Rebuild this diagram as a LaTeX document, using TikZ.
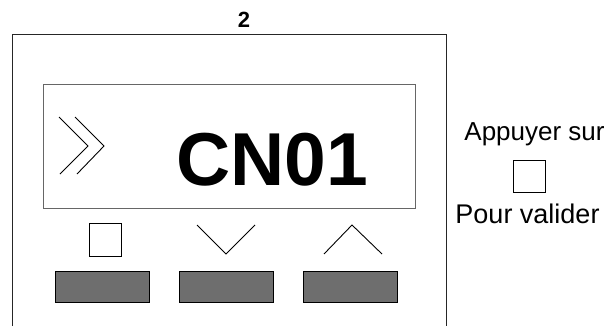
\documentclass[tikz,border=0pt]{standalone}
\usepackage{fontspec}
\setmainfont{Liberation Sans}
\usepackage{xcolor}
\definecolor{keygray}{HTML}{6E6E6E}
\definecolor{lcdline}{HTML}{666666}

\begin{document}
\begin{tikzpicture}[x=1pt,y=-1pt,
    frame/.style={draw=black!85,line width=1pt},
    lcd/.style={draw=lcdline,line width=1pt},
    sym/.style={draw=black,line width=0.9pt},
    key/.style={draw=black,fill=keygray,line width=0.9pt},
    lbl/.style={inner sep=0pt,anchor=base}]

  \useasboundingbox (0,0) rectangle (609,326);

  % housing, open at the bottom
  \draw[frame] (12,326) |- (446,35) -- (446,326);
  \node[lbl,font=\fontsize{22}{22}\selectfont\bfseries] (title) at (244,28) {2};

  % display
  \draw[lcd] (43,85) rectangle (415,208);
  \coordinate (chvA) at (88,146);
  \coordinate (chvB) at (104,146);
  \draw[sym] (59,117) -- (chvA) -- (60,174);
  \draw[sym] (75,117) -- (chvB) -- (77,174);
  \node[lbl,font=\fontsize{75}{75}\selectfont\bfseries] (code) at (272.5,185) {CN01};

  % key symbols
  \draw[sym] (89,223) rectangle (121,256);
  \draw[sym] (197,225) -- (226,254) -- (255,225);
  \draw[sym] (324,254) -- (352,225) -- (382,254);

  % keys
  \draw[key] (55,271) rectangle (149,302);
  \draw[key] (179,271) rectangle (273,302);
  \draw[key] (303,271) rectangle (397,302);

  % hint
  \node[lbl,font=\fontsize{26}{26}\selectfont] (press) at (534.5,140) {Appuyer sur};
  \draw[sym] (513,160) rectangle (545,192);
  \node[lbl,font=\fontsize{27}{27}\selectfont] (valid) at (527.5,223) {Pour valider};
\end{tikzpicture}
\end{document}
